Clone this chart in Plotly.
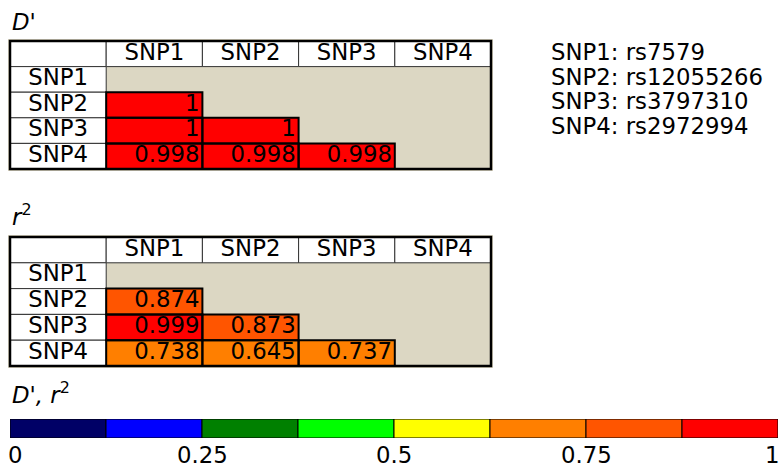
import plotly.graph_objects as go

# ---------------- data ----------------
snps = ["SNP1", "SNP2", "SNP3", "SNP4"]
rsids = ["rs7579", "rs12055266", "rs3797310", "rs2972994"]
dprime = [
    [None, None, None, None],
    [1, None, None, None],
    [1, 1, None, None],
    [0.998, 0.998, 0.998, None],
]
r2 = [
    [None, None, None, None],
    [0.874, None, None, None],
    [0.999, 0.873, None, None],
    [0.738, 0.645, 0.737, None],
]
bin_edges = [0, 0.125, 0.25, 0.375, 0.5, 0.625, 0.75, 0.875, 1.0]
bin_colors = ["#000066", "#0000FF", "#008000", "#00FF00",
              "#FFFF00", "#FF7F00", "#FF5500", "#FF0000"]
tick_vals = [0, 0.25, 0.5, 0.75, 1]
tick_labels = ["0", "0.25", "0.5", "0.75", "1"]

# ---------------- style ----------------
FONT = "DejaVu Sans"
FS = 22.8
BEIGE = "#DCD7C3"
W, H = 780, 465

colorscale = []
for i, c in enumerate(bin_colors):
    colorscale.append([bin_edges[i], c])
    colorscale.append([bin_edges[i + 1], c])

fig = go.Figure()
shapes = []
annotations = []

def px_dom_x(a, b):
    return [a / W, b / W]

def px_dom_y(top, bottom):
    return [1 - bottom / H, 1 - top / H]

n = len(snps)
tables = [("", dprime, 41, 169), ("2", r2, 237, 366)]
left, right = 10, 491
for suffix, mat, top, bottom in tables:
    xa, ya = "x" + suffix, "y" + suffix
    # heatmap of values
    fig.add_trace(go.Heatmap(
        z=mat, x=list(range(n)), y=list(range(n)),
        colorscale=colorscale, zmin=0, zmax=1, showscale=False,
        hoverinfo="skip", xaxis=xa, yaxis=ya))
    # value labels, right aligned
    tx, ty, tt = [], [], []
    for i in range(n):
        for j in range(n):
            v = mat[i][j]
            if v is not None:
                tx.append(j + 0.47)
                ty.append(i)
                tt.append(f"{v:g}")
                shapes.append(dict(type="rect", xref=xa, yref=ya,
                                   x0=j - 0.5, x1=j + 0.5, y0=i - 0.5, y1=i + 0.5,
                                   line=dict(color="black", width=2), layer="above"))
    fig.add_trace(go.Scatter(x=tx, y=ty, text=tt, mode="text",
                             textposition="middle left",
                             textfont=dict(family=FONT, size=FS, color="black"),
                             hoverinfo="skip", showlegend=False, xaxis=xa, yaxis=ya))
    # header row and label column
    hx, hy, ht = [], [], []
    for j in range(-1, n):
        shapes.append(dict(type="rect", xref=xa, yref=ya,
                           x0=j - 0.5, x1=j + 0.5, y0=-1.5, y1=-0.5,
                           fillcolor="white", line=dict(color="#333333", width=1),
                           layer="below"))
        if j >= 0:
            hx.append(j); hy.append(-1); ht.append(snps[j])
    for i in range(n):
        shapes.append(dict(type="rect", xref=xa, yref=ya,
                           x0=-1.5, x1=-0.5, y0=i - 0.5, y1=i + 0.5,
                           fillcolor="white", line=dict(color="#333333", width=1),
                           layer="below"))
        hx.append(-1); hy.append(i); ht.append(snps[i])
    fig.add_trace(go.Scatter(x=hx, y=hy, text=ht, mode="text",
                             textposition="middle center",
                             textfont=dict(family=FONT, size=FS, color="black"),
                             hoverinfo="skip", showlegend=False, xaxis=xa, yaxis=ya))
    # outer frame
    shapes.append(dict(type="rect", xref=xa, yref=ya,
                       x0=-1.5, x1=n - 0.5, y0=-1.5, y1=n - 0.5,
                       line=dict(color="black", width=2.5), layer="above"))
    # axes (extended by 2px each side so the frame is not clipped)
    ux = (right - left) / (n + 1)
    uy = (bottom - top) / (n + 1)
    ex, ey = 2 / ux, 2 / uy
    fig.layout["xaxis" + suffix] = dict(
        domain=px_dom_x(left - 2, right + 2), range=[-1.5 - ex, n - 0.5 + ex],
        visible=False, fixedrange=True, anchor=ya)
    fig.layout["yaxis" + suffix] = dict(
        domain=px_dom_y(top - 2, bottom + 2), range=[n - 0.5 + ey, -1.5 - ey],
        visible=False, fixedrange=True, anchor=xa)

# ---------------- colour key ----------------
centers = [(bin_edges[i] + bin_edges[i + 1]) / 2 for i in range(len(bin_colors))]
widths = [bin_edges[i + 1] - bin_edges[i] for i in range(len(bin_colors))]
fig.add_trace(go.Bar(x=centers, y=[1] * len(centers), width=widths,
                     marker=dict(color=bin_colors, line=dict(color="black", width=1)),
                     hoverinfo="skip", showlegend=False, xaxis="x3", yaxis="y3"))
fig.layout["xaxis3"] = dict(domain=px_dom_x(10, 778), range=[0, 1], visible=False,
                            fixedrange=True, anchor="y3")
fig.layout["yaxis3"] = dict(domain=px_dom_y(419, 438), range=[0, 1], visible=False,
                            fixedrange=True, anchor="x3")
for k, (v, lab) in enumerate(zip(tick_vals, tick_labels)):
    last = len(tick_vals) - 1
    anchor = "left" if k == 0 else ("right" if k == last else "center")
    shift = -4 if k == 0 else (4 if k == last else 0)
    annotations.append(dict(x=v, y=1 - 455 / H, xref="x3", yref="paper", text=lab,
                            showarrow=False, xanchor=anchor, yanchor="middle", xshift=shift,
                            font=dict(family=FONT, size=FS, color="black")))

# ---------------- titles and SNP key ----------------
titles = [("<i>D'</i>", 22), ("<i>r</i><sup>2</sup>", 215), ("<i>D', r</i><sup>2</sup>", 393)]
for txt, yc in titles:
    annotations.append(dict(x=10 / W, y=1 - yc / H, xref="paper", yref="paper", text=txt,
                            showarrow=False, xanchor="left", yanchor="middle",
                            font=dict(family=FONT, size=FS, color="black")))
key_y = [52, 77, 101.5, 126]
for s, rs, yc in zip(snps, rsids, key_y):
    annotations.append(dict(x=549 / W, y=1 - yc / H, xref="paper", yref="paper",
                            text=f"{s}: {rs}", showarrow=False, xanchor="left",
                            yanchor="middle", font=dict(family=FONT, size=FS, color="black")))

fig.update_layout(
    width=W, height=H, margin=dict(l=0, r=0, t=0, b=0),
    paper_bgcolor="white", plot_bgcolor=BEIGE,
    shapes=shapes, annotations=annotations, showlegend=False,
    font=dict(family=FONT, size=FS, color="black"),
)
fig.write_html("out.html", config={"displayModeBar": False},
               post_script="document.body.style.margin='0';document.body.style.overflow='hidden';")
